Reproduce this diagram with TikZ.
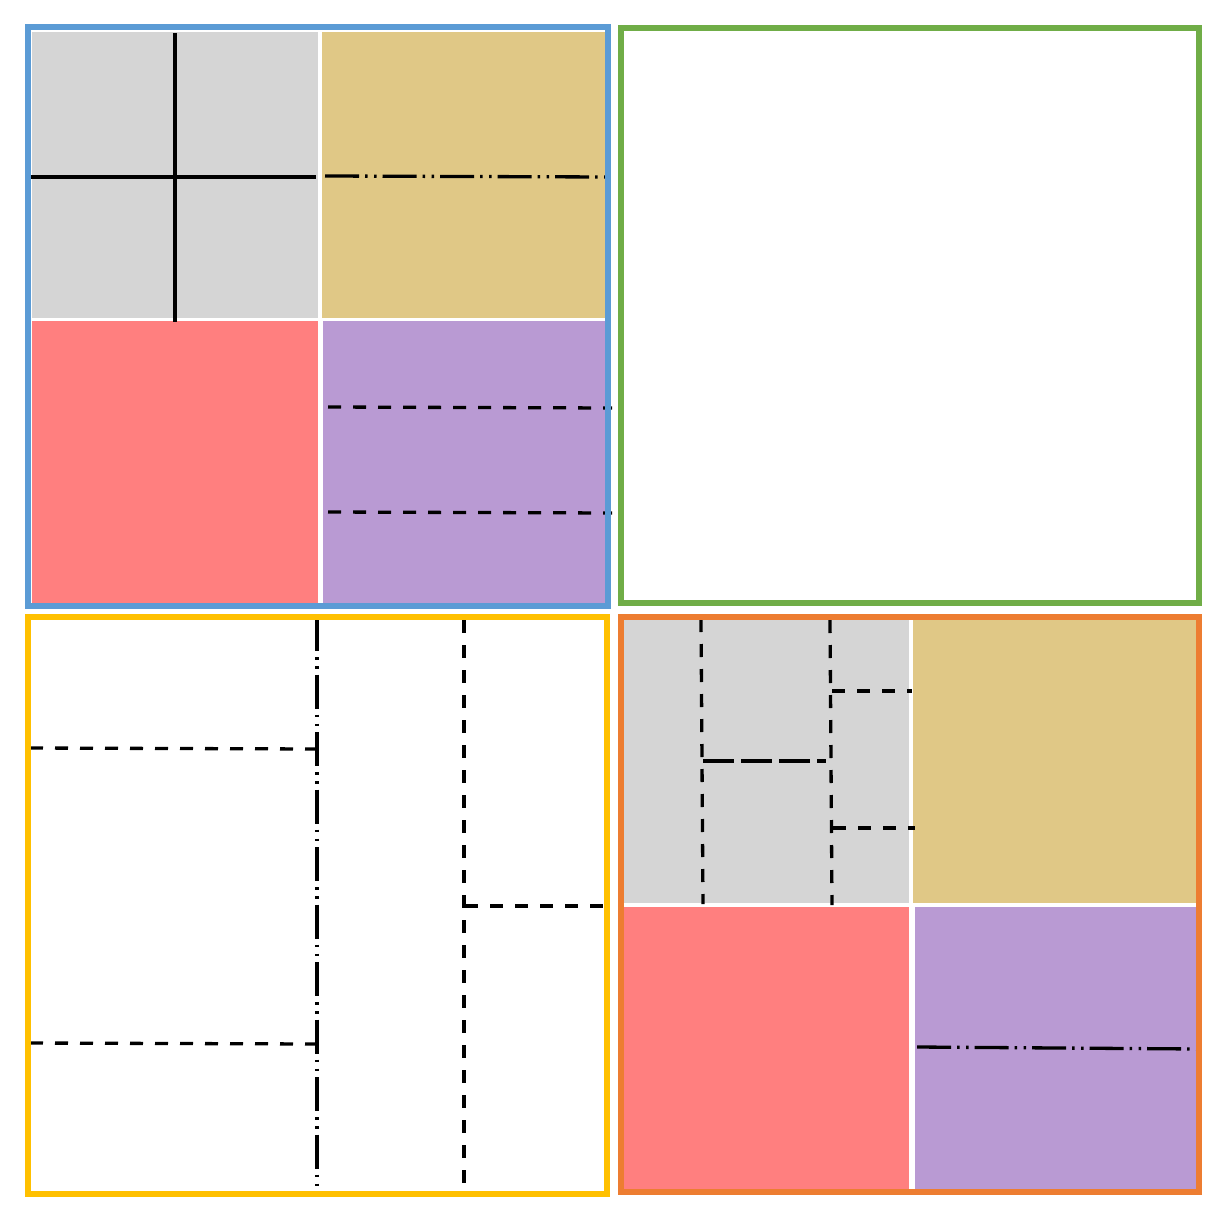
\documentclass[tikz,border=0pt]{standalone}
\definecolor{cgray}{HTML}{D5D5D5}
\definecolor{ctan}{HTML}{E0C886}
\definecolor{cred}{HTML}{FF7F7F}
\definecolor{cpurple}{HTML}{B99AD3}
\definecolor{cblue}{HTML}{5B9BD5}
\definecolor{cgreen}{HTML}{70AD47}
\definecolor{cyellow}{HTML}{FFC000}
\definecolor{corange}{HTML}{ED7D31}
\tikzset{
  frame/.style={line width=6.5pt},
  solidln/.style={line width=3.3pt, black},
  dashln/.style={line width=3.3pt, black, dash pattern=on 13pt off 12pt},
  ddotln/.style={line width=3.3pt, black, dash pattern=on 34pt off 6pt on 2.5pt off 6.5pt on 2.5pt off 6pt},
  longdash/.style={line width=3.3pt, black, dash pattern=on 31pt off 7pt},
}
\begin{document}
\begin{tikzpicture}[x=1pt,y=-1pt]
\useasboundingbox (0,0) rectangle (1220,1220);
% ---- top-left quadrant
\fill[cgray] (32,32) rectangle (318,318);
\fill[ctan] (322,32) rectangle (608,318);
\fill[cred] (32,321) rectangle (318,604);
\fill[cpurple] (323,321) rectangle (608,604);
\draw[solidln] (175,33) -- (175,322);
\draw[solidln] (27,177) -- (316,177);
\draw[ddotln] (325,176) -- (608,177);
\draw[dashln] (328,407) -- (612,408);
\draw[dashln] (328,512) -- (612,513);
\draw[frame, cblue] (28,27) rectangle (608,606);
% ---- top-right quadrant
\draw[frame, cgreen] (621,28) rectangle (1199,603);
% ---- bottom-left quadrant
\draw[ddotln] (317,617) -- (317,1194);
\draw[dashln] (464,620) -- (464,1194);
\draw[dashln] (30,748) -- (316,749);
\draw[dashln] (30,1043) -- (316,1044);
\draw[dashln] (465,906) -- (606,906);
\draw[frame, cyellow] (28,617) rectangle (607,1194);
% ---- bottom-right quadrant
\fill[cgray] (624,619) rectangle (909,903);
\fill[ctan] (913,619) rectangle (1197,903);
\fill[cred] (624,907) rectangle (909,1190);
\fill[cpurple] (915,907) rectangle (1197,1190);
\draw[dashln] (701,619) -- (703,904);
\draw[dashln] (830,620) -- (832,905);
\draw[longdash] (703,761) -- (826,761);
\draw[dashln] (832,691) -- (912,691);
\draw[dashln] (833,828) -- (915,828);
\draw[ddotln] (917,1047) -- (1199,1049);
\draw[frame, corange] (621,617) rectangle (1199,1192);
\end{tikzpicture}
\end{document}
